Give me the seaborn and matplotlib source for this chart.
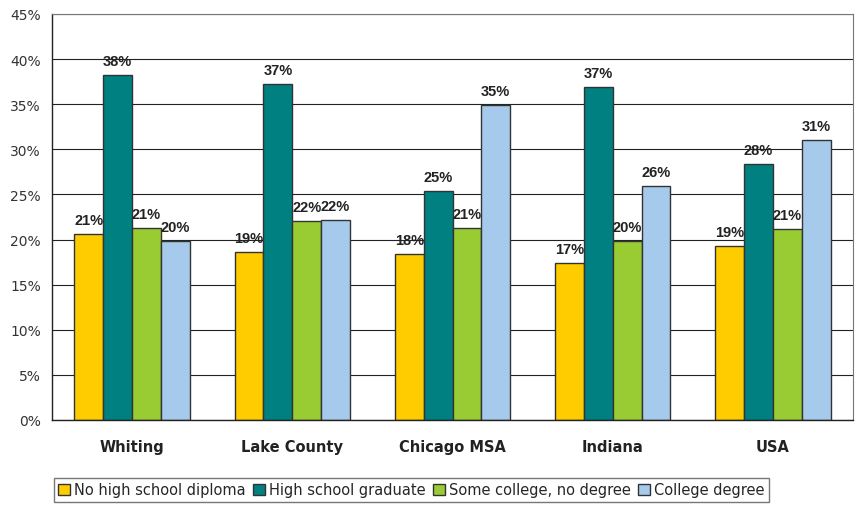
import pandas as pd
import matplotlib.pyplot as plt
import seaborn as sns
from matplotlib.ticker import FuncFormatter, FixedLocator

places = ['Whiting', 'Lake County', 'Chicago MSA', 'Indiana', 'USA']
levels = ['No high school diploma', 'High school graduate', 'Some college, no degree', 'College degree']
no_diploma = [20.6, 18.6, 18.4, 17.4, 19.3]
hs_grad = [38.2, 37.2, 25.4, 36.9, 28.4]
some_college = [21.3, 22.1, 21.3, 19.8, 21.2]
college = [19.8, 22.2, 34.9, 25.9, 31.0]
colors = ['#FFCC00', '#008080', '#99CC33', '#A6CAEC']

df = pd.DataFrame({'place': places * 4,
                   'level': [l for l in levels for _ in places],
                   'pct': no_diploma + hs_grad + some_college + college})

sns.set_style('white')
plt.rcParams['font.family'] = ['DejaVu Sans']
fig = plt.figure(figsize=(8.57, 5.06), dpi=100)
ax = fig.add_axes([52/857, 85/506, 801/857, 406/506])
sns.barplot(data=df, x='place', y='pct', hue='level', hue_order=levels, palette=colors,
            saturation=1, width=0.72, edgecolor='#333333', linewidth=1, ax=ax, legend=True)

for c in ax.containers:
    ax.bar_label(c, labels=[f'{round(v.get_height()):.0f}%' for v in c], padding=5,
                 fontsize=10.5, fontweight='bold', color='#222222', family='Liberation Sans')

ax.set_ylim(0, 45)
ax.set_xlim(-0.5, 4.5)
ax.set_yticks(range(0, 46, 5))
ax.yaxis.set_major_formatter(FuncFormatter(lambda v, p: f'{v:.0f}%'))
ax.yaxis.grid(True, color='#222222', linewidth=0.8)
ax.set_axisbelow(True)
ax.tick_params(axis='y', direction='out', length=5, width=0.8, color='#222222', labelsize=10, labelcolor='#333333', pad=3)
ax.tick_params(axis='x', length=0, labelsize=10.5, pad=14)
for lab in ax.get_xticklabels():
    lab.set_fontweight('bold')
    lab.set_color('#222222')
ax.xaxis.set_minor_locator(FixedLocator([-0.5, 0.5, 1.5, 2.5, 3.5, 4.5]))
ax.tick_params(axis='x', which='minor', length=5, width=0.8, color='#222222', direction='out')
ax.set_xlabel('')
ax.set_ylabel('')
for s in ['left', 'bottom']:
    ax.spines[s].set_color('#222222')
    ax.spines[s].set_linewidth(1)
for s in ['top', 'right']:
    ax.spines[s].set_color('#777777')
    ax.spines[s].set_linewidth(0.8)

ax.legend(loc='center', bbox_to_anchor=(0.449, -0.172), ncol=4, frameon=True, fancybox=False,
          edgecolor='#555555', fontsize=10.5, handlelength=0.8, handleheight=0.8,
          handletextpad=0.3, columnspacing=0.5, borderpad=0.3)

fig.savefig('out.png', dpi=100)
